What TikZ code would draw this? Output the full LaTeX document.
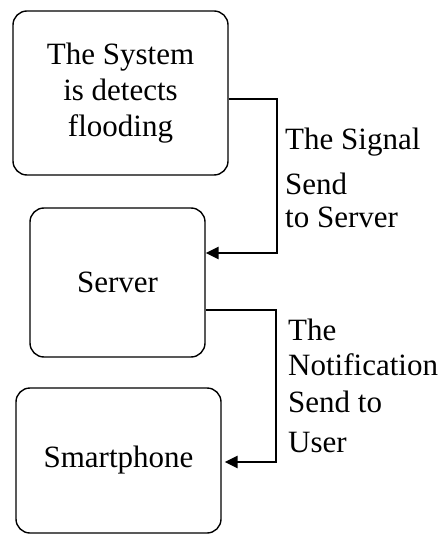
\documentclass[tikz,border=0pt]{standalone}
\usepackage{fontspec}
\setmainfont{Liberation Serif}
\usetikzlibrary{arrows.meta}
\begin{document}
\begin{tikzpicture}[x=1pt,y=-1pt,
  box/.style={draw=black,line width=1.4pt,rounded corners=14pt,inner sep=0pt,align=center,
    font=\fontsize{31}{36}\selectfont},
  conn/.style={draw=black,line width=2.8pt,-{Triangle[length=13pt,width=12pt]}},
  lbl/.style={anchor=base west,inner sep=0pt,font=\fontsize{31}{36}\selectfont}]
\useasboundingbox (0,0) rectangle (443,534);
\node[box,minimum width=215pt,minimum height=164pt] (sys) at (120.5,93) {The System\\is detects\\flooding};
\node[box,minimum width=175pt,minimum height=149pt] (srv) at (117.5,282.5) {Server};
\node[box,minimum width=205pt,minimum height=145pt] (phone) at (118.5,460.5) {Smartphone};
\coordinate (c1) at (277,253);
\coordinate (c2) at (276,462);
\draw[conn] ([yshift=-6pt]sys.east) -| (c1) -- (srv.east |- c1);
\draw[conn,shorten >=3pt] ([yshift=-27.5pt]srv.east) -| (c2) -- (phone.east |- c2);
\node[lbl] (l1a) at (285,150) {The Signal};
\node[lbl] (l1b) at (285,195) {Send};
\node[lbl] (l1c) at (285,227) {to Server};
\node[lbl] (l2a) at (288,340) {The};
\node[lbl] (l2b) at (288,375) {Notification};
\node[lbl] (l2c) at (288,412) {Send to};
\node[lbl] (l2d) at (288,452) {User};
\end{tikzpicture}
\end{document}
